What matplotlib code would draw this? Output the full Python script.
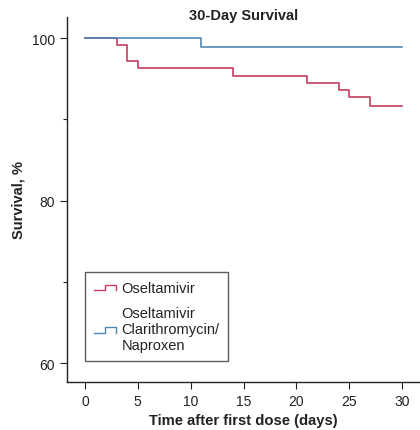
import matplotlib
matplotlib.use("Agg")
import matplotlib.pyplot as plt
from matplotlib.legend_handler import HandlerBase
from matplotlib.lines import Line2D

plt.rcParams['font.family'] = ['Liberation Sans', 'DejaVu Sans']
plt.rcParams['text.color'] = '#222222'
plt.rcParams['axes.labelcolor'] = '#222222'
plt.rcParams['xtick.labelcolor'] = '#222222'
plt.rcParams['ytick.labelcolor'] = '#222222'

# Data
osel_days = [0, 3, 4, 5, 14, 21, 24, 25, 27, 30]
osel_surv = [100, 99.1, 97.2, 96.3, 95.4, 94.5, 93.6, 92.7, 91.7, 91.7]
combo_days = [0, 11, 30]
combo_surv = [100, 98.9, 98.9]
labels = ["Oseltamivir", "Oseltamivir\nClarithromycin/\nNaproxen"]
xticks = [0, 5, 10, 15, 20, 25, 30]
yticks = [60, 80, 100]

red = "#c63c5e"
blue = "#4f87b3"

class StepHandler(HandlerBase):
    def create_artists(self, legend, orig_handle, xdescent, ydescent, width, height, fontsize, trans):
        x0 = -xdescent
        y0 = -ydescent + height * 0.2
        y1 = -ydescent + height * 0.7
        xs = [x0, x0 + width * 0.5, x0 + width * 0.5, x0 + width, x0 + width]
        ys = [y0, y0, y1, y1, y0]
        l = Line2D(xs, ys, color=orig_handle.get_color(), lw=1.0, transform=trans)
        return [l]

fig = plt.figure(figsize=(4.2, 4.31), dpi=100)
ax = fig.add_axes([67/420, (431-383)/431, (420-67)/420, (383-18)/431])

h1, = ax.step(osel_days, osel_surv, where='post', color=red, lw=1.2)
h2, = ax.step(combo_days, combo_surv, where='post', color=blue, lw=1.2)

ax.set_xlim(-1.7, 31.7)
ax.set_ylim(57.7, 102.6)
ax.set_xticks(xticks)
ax.set_yticks(yticks)
ax.set_yticks([70, 90], minor=True)
ax.tick_params(axis='both', labelsize=10, length=5, width=0.8, direction='out', color='#222222')
ax.tick_params(axis='y', which='minor', length=3, width=0.8, color='#222222')
for s in ['top', 'right']:
    ax.spines[s].set_visible(False)
for s in ['left', 'bottom']:
    ax.spines[s].set_linewidth(1.0)
    ax.spines[s].set_color('#222222')

ax.set_xlabel("Time after first dose (days)", fontsize=10.6, fontweight='bold', labelpad=4)
ax.set_ylabel("Survival, %", fontsize=10.5, fontweight='bold', labelpad=5)
fig.text(244/420, 1 - 16/431, "30-Day Survival", ha='center', va='center', fontsize=10.5, fontweight='bold')

leg = ax.legend([h1, h2], labels, handler_map={Line2D: StepHandler()},
                loc='lower left', bbox_to_anchor=((85-67)/353, (383-362)/365), borderaxespad=0,
                fontsize=10.5, frameon=True, fancybox=False, edgecolor='#333333',
                handlelength=1.5, handletextpad=0.4, borderpad=0.6, labelspacing=0.75)
leg.get_frame().set_linewidth(1.0)

fig.savefig("out.png", dpi=100)
